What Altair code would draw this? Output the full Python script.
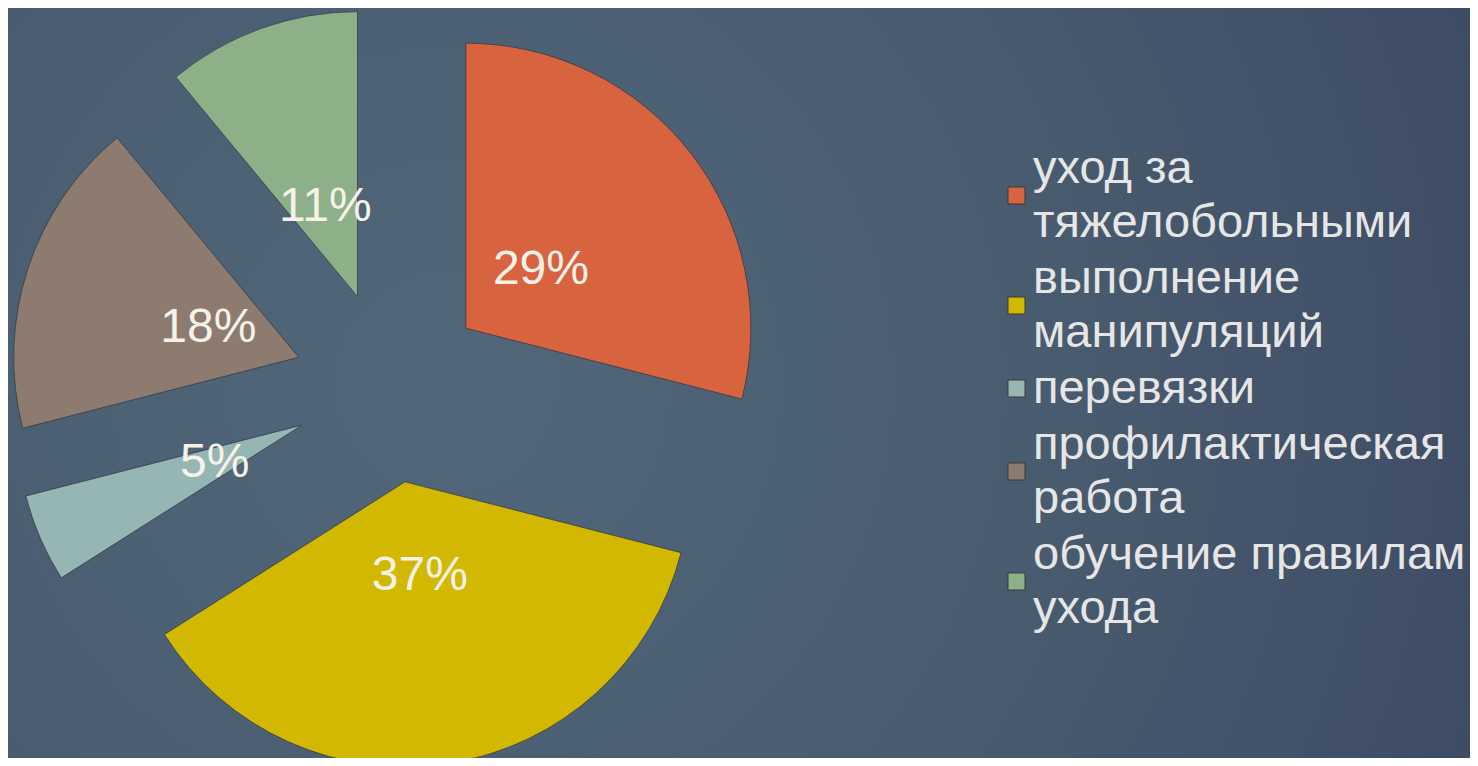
import altair as alt
import pandas as pd

# data
categories = ["уход за тяжелобольными", "выполнение манипуляций", "перевязки",
              "профилактическая работа", "обучение правилам ухода"]
values = [29, 37, 5, 18, 11]
colors = ["#d8633f", "#d2b800", "#96b6b4", "#8e7b6f", "#8eb088"]

df = pd.DataFrame({"cat": categories, "value": values, "idx": list(range(len(values)))})

W, H = 1462, 750
CX, CY, OFF, R, LR = 382, 379, 96, 285, 191

bg = alt.Chart(pd.DataFrame({"a": [0]})).mark_rect(
    color=alt.Gradient(
        gradient="radial",
        stops=[alt.GradientStop(color="#52677a", offset=0),
               alt.GradientStop(color="#4a5d70", offset=0.45),
               alt.GradientStop(color="#3a4762", offset=1)],
        x1=0.3, y1=0.5, r1=0, x2=0.3, y2=0.5, r2=0.85,
    )
).encode(x=alt.value(0), x2=alt.value(W), y=alt.value(0), y2=alt.value(H))

base = alt.Chart(df).transform_window(
    cum="sum(value)", sort=[alt.SortField("idx")], frame=[None, 0]
).transform_joinaggregate(total="sum(value)").transform_calculate(
    t0="(datum.cum - datum.value) / datum.total * 2 * PI",
    t1="datum.cum / datum.total * 2 * PI",
).transform_calculate(
    mid="(datum.t0 + datum.t1) / 2"
).transform_calculate(
    px=f"{CX} + {OFF} * sin(datum.mid)",
    py=f"{CY} - {OFF} * cos(datum.mid)",
    lx=f"{CX} + {LR} * sin(datum.mid)",
    ly=f"{CY} - {LR} * cos(datum.mid)",
    lab="datum.value + '%'",
)

label_expr = ("lastindexof(datum.label, ' ') < 0 ? datum.label : "
              "[substring(datum.label, 0, lastindexof(datum.label, ' ')), "
              "substring(datum.label, lastindexof(datum.label, ' ') + 1)]")
baseline_expr = "indexof(datum.label, ' ') < 0 ? 'middle' : 'line-bottom'"

arcs = base.mark_arc(radius=R, stroke="#2e3440", strokeWidth=1, strokeOpacity=0.7).encode(
    theta=alt.Theta("t0:Q", scale=None),
    theta2="t1:Q",
    x=alt.X("px:Q", scale=None),
    y=alt.Y("py:Q", scale=None),
    color=alt.Color(
        "cat:N",
        scale=alt.Scale(domain=categories, range=colors),
        legend=alt.Legend(
            title=None, orient="none", legendX=985, legendY=164,
            symbolType="square", symbolSize=290, symbolStrokeColor="#3a3a3a",
            symbolStrokeWidth=1, symbolOpacity=1,
            labelFont="Liberation Sans", labelFontSize=47, labelColor="#e6e6e6",
            labelLimit=0, labelOffset=alt.ExprRef(expr="-7"), rowPadding=8, padding=0,
            labelExpr=label_expr,
            labelBaseline=alt.ExprRef(expr=baseline_expr),
        ),
    ),
)

texts = base.mark_text(
    font="Liberation Sans", fontSize=48, color="#f6f2ea", align="center", baseline="middle"
).encode(
    x=alt.X("lx:Q", scale=None),
    y=alt.Y("ly:Q", scale=None),
    text="lab:N",
)

chart = alt.layer(bg, arcs, texts).properties(
    width=W, height=H, autosize=alt.AutoSizeParams(type="none"), padding=0,
    background="#3b4863",
).configure_view(stroke=None).configure(
    style={"guide-label": {"lineHeight": 54}}
)

chart.save("out.html", embed_options={"renderer": "svg", "actions": False})
